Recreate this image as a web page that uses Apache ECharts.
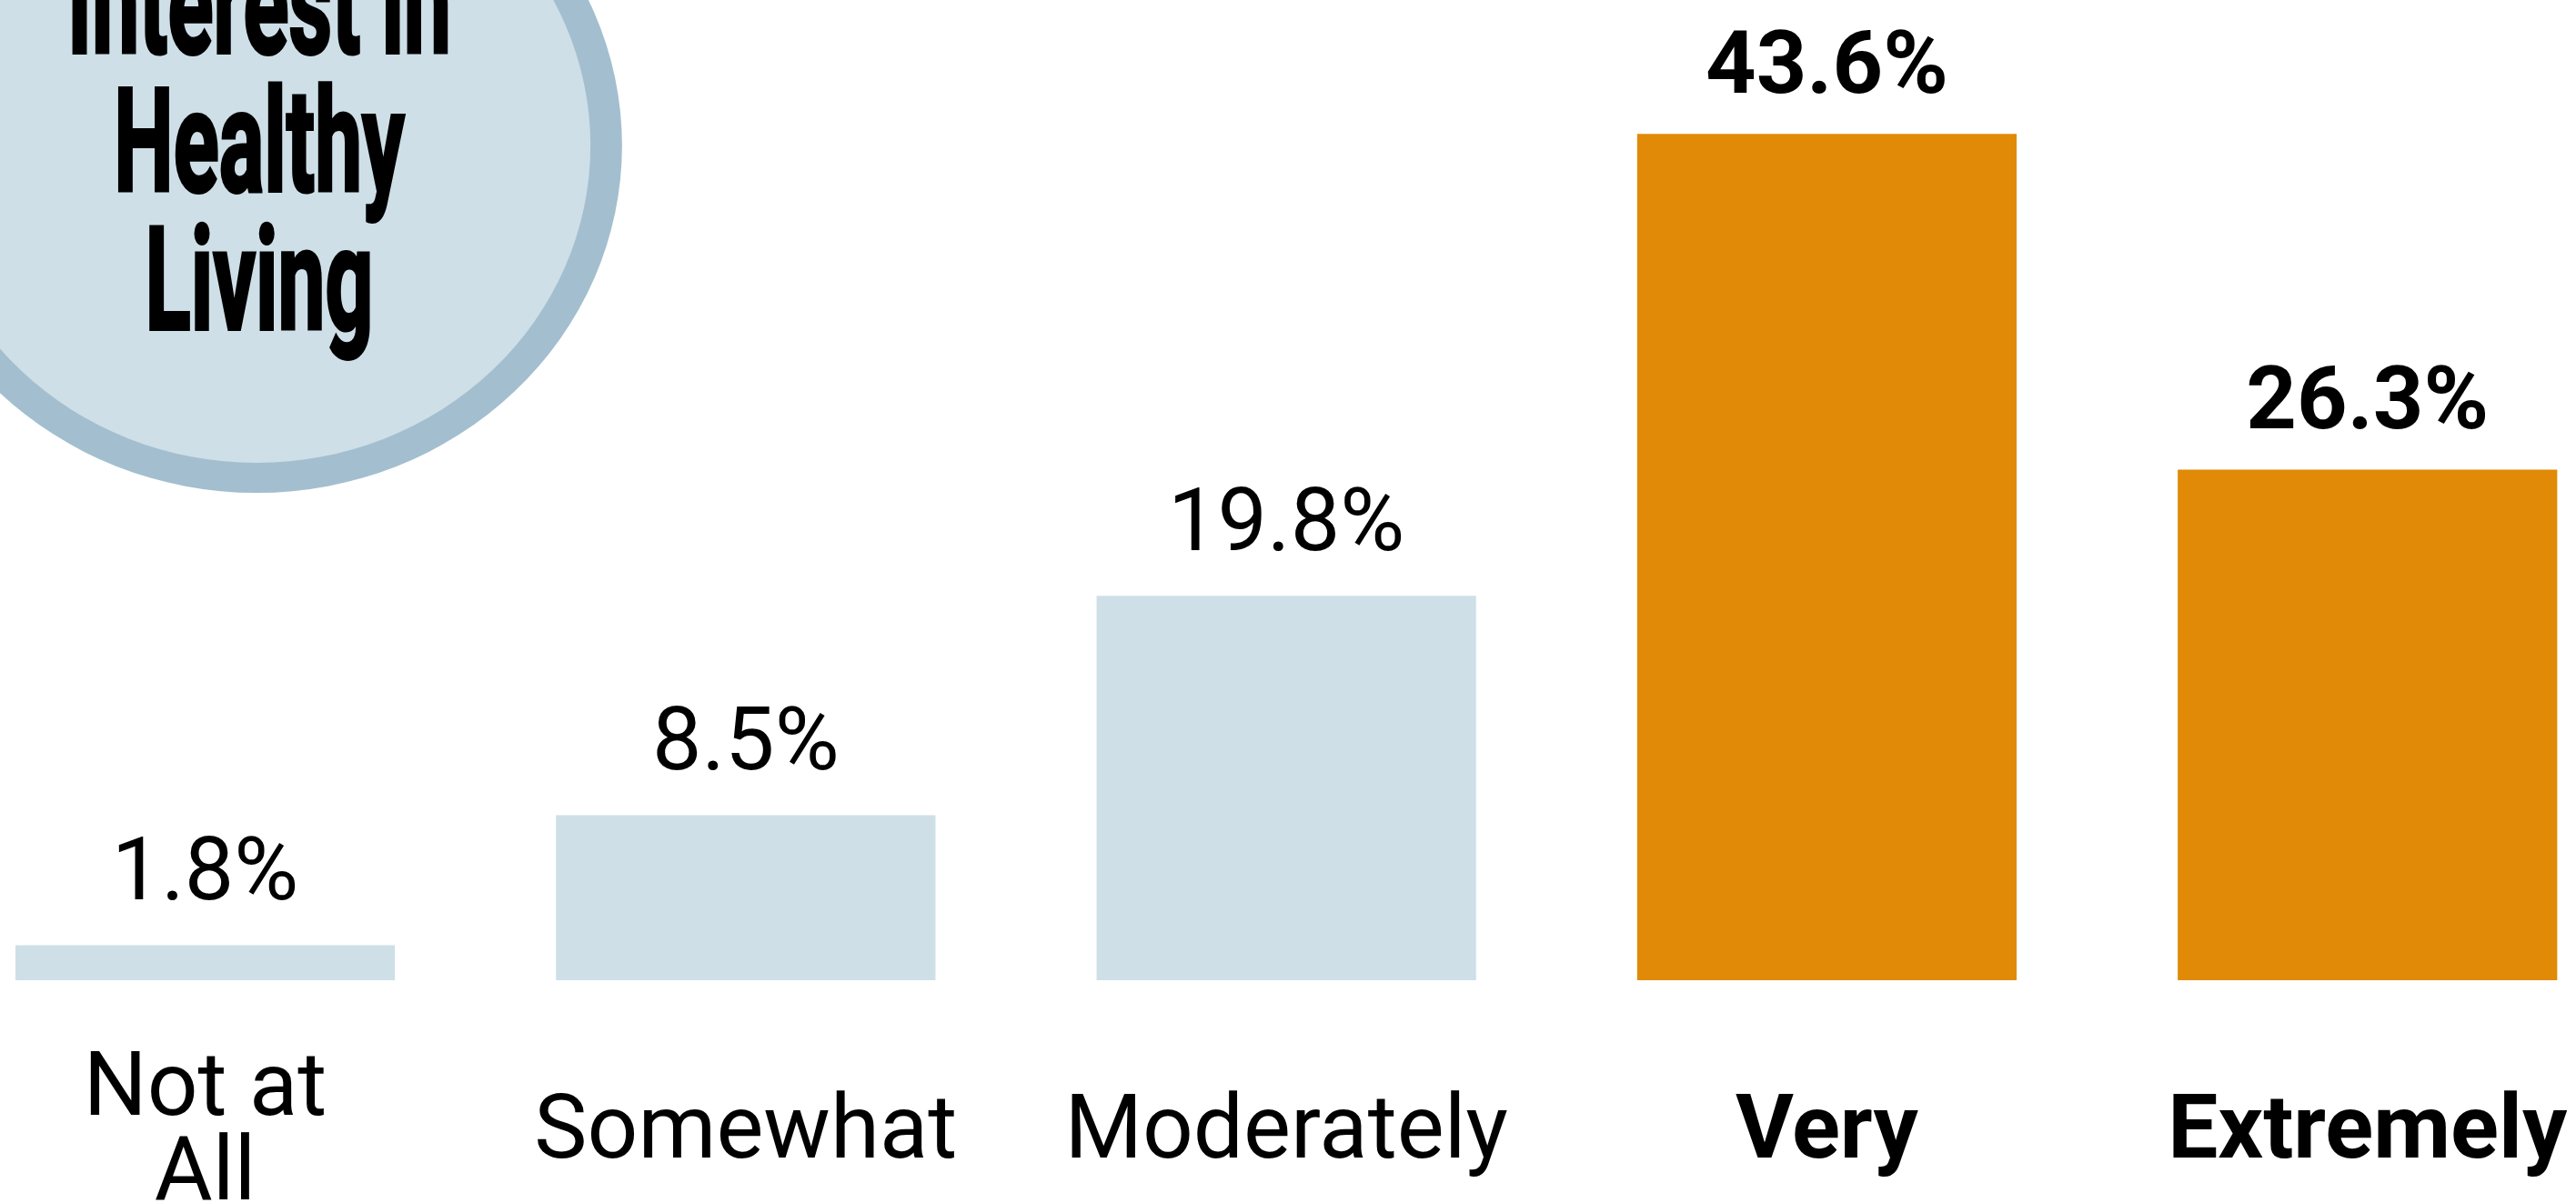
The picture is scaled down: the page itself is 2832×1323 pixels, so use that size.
<!DOCTYPE html>
<html>
<head>
<meta charset="utf-8">
<script src="https://cdn.jsdelivr.net/npm/echarts@6/dist/echarts.min.js"></script>
<style>
  html, body { margin: 0; padding: 0; background: #fff; }
  #chart { width: 2832px; height: 1323px; }
</style>
</head>
<body>
<div id="chart"></div>
<script>
var categories = ['Not at\nAll', 'Somewhat', 'Moderately', 'Very', 'Extremely'];
var values = [1.8, 8.5, 19.8, 43.6, 26.3];
var highlighted = [false, false, false, true, true];
var titleLines = ['Interest in', 'Healthy', 'Living'];

var LIGHT = '#CEDFE7';
var RING = '#A3BFCF';
var ORANGE = '#E08A07';

function buildChart() {
    var myChart = echarts.init(document.getElementById('chart'));

    var xData = categories.map(function (c, i) {
        return {
            value: c,
            textStyle: {
                fontWeight: highlighted[i] ? 'bold' : 'normal',
                verticalAlign: 'middle',
                lineHeight: 93
            }
        };
    });

    var barData = values.map(function (v, i) {
        return {
            value: v,
            itemStyle: { color: highlighted[i] ? ORANGE : LIGHT },
            label: {
                fontWeight: highlighted[i] ? 'bold' : 'normal',
                distance: highlighted[i] ? 21 : 26
            }
        };
    });

    var option = {
        backgroundColor: '#ffffff',
        animation: false,
        grid: {
            left: -71.6,
            right: -67.9,
            top: 10.5,
            bottom: 245,
            containLabel: false,
            outerBoundsMode: 'none'
        },
        xAxis: {
            type: 'category',
            data: xData,
            axisLine: { show: false },
            axisTick: { show: false },
            axisLabel: {
                interval: 0,
                margin: 170,
                verticalAlign: 'middle',
                lineHeight: 93,
                fontFamily: 'Roboto',
                fontSize: 98,
                color: '#000',
                hideOverlap: false
            }
        },
        yAxis: {
            type: 'value',
            min: 0,
            max: 50,
            show: false,
            splitLine: { show: false }
        },
        graphic: [
            {
                type: 'circle',
                x: 282, y: 160,
                scaleX: 1.052,
                shape: { cx: 0, cy: 0, r: 382 },
                style: { fill: RING },
                z: 0
            },
            {
                type: 'circle',
                x: 282, y: 160,
                scaleX: 1.052,
                shape: { cx: 0, cy: 0, r: 349 },
                style: { fill: LIGHT },
                z: 1
            },
            {
                type: 'text',
                x: 285, y: -57,
                scaleX: 0.59,
                z: 2,
                style: {
                    text: titleLines.join('\n'),
                    x: 0, y: 0,
                    align: 'center',
                    verticalAlign: 'top',
                    font: 'bold 157px Roboto',
                    lineHeight: 152,
                    fill: '#000',
                    stroke: '#000',
                    lineWidth: 4
                }
            }
        ],
        series: [{
            type: 'bar',
            barWidth: '70.2%',
            data: barData,
            label: {
                show: true,
                position: 'top',
                formatter: '{c}%',
                fontFamily: 'Roboto',
                fontSize: 97,
                color: '#000'
            }
        }]
    };
    myChart.setOption(option);
}

buildChart();
</script>
</body>
</html>
